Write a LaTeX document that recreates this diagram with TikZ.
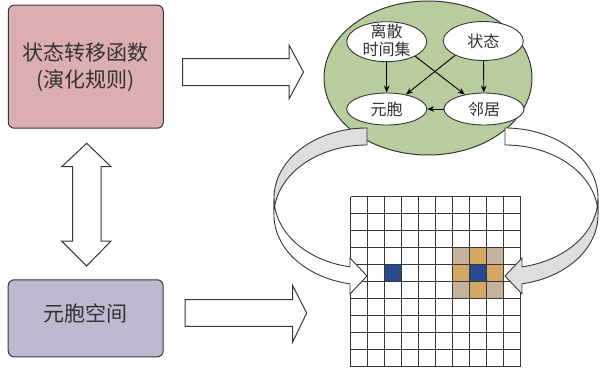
\documentclass[tikz,border=0pt]{standalone}
\usepackage{fontspec}
\setmainfont{Noto Sans CJK SC}
\usetikzlibrary{shapes.geometric,arrows.meta}
\definecolor{pinkc}{RGB}{221,174,176}
\definecolor{lilac}{RGB}{192,183,209}
\definecolor{greenc}{RGB}{185,204,158}
\definecolor{greyc}{RGB}{222,222,222}
\definecolor{bluec}{RGB}{40,74,140}
\definecolor{orangec}{RGB}{212,168,98}
\definecolor{tanc}{RGB}{197,178,156}
\definecolor{linec}{RGB}{55,55,55}
\definecolor{textc}{RGB}{50,50,50}
\begin{document}
\begin{tikzpicture}[x=1pt,y=-1pt,
  box/.style={draw=linec, line width=1pt, rounded corners=6pt, inner sep=0pt},
  boxtext/.style={text=textc, font=\fontsize{21}{27}\selectfont, align=center},
  inell/.style={ellipse, draw=linec, fill=white, line width=0.9pt, minimum width=80pt, inner sep=0pt},
  intext/.style={text=textc, font=\fontsize{16}{18}\selectfont, align=center},
  conn/.style={-{Stealth[length=7pt,width=5.5pt]}, line width=0.9pt, black},
  blockarrow/.style={draw=linec, fill=white, line width=1pt, line join=miter},
  band/.style={draw=linec, line width=0.9pt, line join=miter},
  gridline/.style={draw=linec, line width=1.2pt},
]
\useasboundingbox (0,0) rectangle (600,372);

% left boxes
\node[box, fill=pinkc, minimum width=155pt, minimum height=123pt, boxtext] (func) at (85.8,66.7) {状态转移函数\\(演化规则)};
\node[box, fill=lilac, minimum width=155pt, minimum height=77pt] (space) at (85.7,318.3) {};
\node[boxtext] (space-t) at (85.7,313) {元胞空间};

% block arrows
\filldraw[blockarrow] (182.7,58.5) -- (289,58.5) -- (289,45) -- (303.5,72) -- (289,99) -- (289,85.5) -- (182.7,85.5) -- cycle;
\filldraw[blockarrow] (185,299.7) -- (292.7,299.7) -- (292.7,285.7) -- (306.7,313) -- (292.7,342) -- (292.7,326.3) -- (185,326.3) -- cycle;
\filldraw[blockarrow] (86.7,143.3) -- (111,166.7) -- (101,166.7) -- (101,241) -- (111,241) -- (86.7,266) -- (61.7,241) -- (72.7,241) -- (72.7,166.7) -- (61.7,166.7) -- cycle;

% big ellipse
\node[ellipse, draw=linec, fill=greenc, line width=1pt, minimum width=208pt, minimum height=154pt, inner sep=0pt] (rule) at (428,78) {};

% grid
\foreach \c/\r/\col in {2/4/bluec, 6/3/tanc, 8/3/tanc, 6/5/tanc, 8/5/tanc, 7/3/orangec, 6/4/orangec, 8/4/orangec, 7/5/orangec, 7/4/bluec}
  \fill[\col] ({350.5+\c*17},{196.5+\r*17}) rectangle +(17,17);
\foreach \i in {0,...,10} {
  \draw[gridline] ({350.5+\i*17},196.5) -- ({350.5+\i*17},366.5);
  \draw[gridline] (350.5,{196.5+\i*17}) -- (520.5,{196.5+\i*17});
}
\node[minimum width=170pt, minimum height=170pt, inner sep=0pt] (grid) at (435.5,281.5) {};

% curved arrows (left)
\filldraw[band, fill=greyc] plot[domain=270:180, samples=50] ({367+93*cos(\x)},{198+70*sin(\x)}) -- plot[domain=180:270, samples=50] ({367+93*cos(\x)},{215+70*sin(\x)}) -- cycle;
\filldraw[band, fill=white] plot[domain=180:100.53, samples=50] ({367+93*cos(\x)},{198+70*sin(\x)}) -- (350,258) -- (367,276) -- (350,294) -- plot[domain=100.53:180, samples=50] ({367+93*cos(\x)},{215+70*sin(\x)}) -- cycle;
% curved arrows (right)
\filldraw[band, fill=white] plot[domain=270:180, samples=50] ({505-93*cos(\x)},{198+70*sin(\x)}) -- plot[domain=180:270, samples=50] ({505-93*cos(\x)},{215+70*sin(\x)}) -- cycle;
\filldraw[band, fill=greyc] plot[domain=180:100.53, samples=50] ({505-93*cos(\x)},{198+70*sin(\x)}) -- (522,258) -- (505,276) -- (522,294) -- plot[domain=100.53:180, samples=50] ({505-93*cos(\x)},{215+70*sin(\x)}) -- cycle;

% inner ellipses
\node[inell, minimum height=40pt] (lisan) at (386.7,41.7) {};
\node[intext] (lisan-t) at (386.7,40.5) {离散\\时间集};
\node[inell, minimum height=39pt] (zt) at (483.3,41) {};
\node[intext] (zt-t) at (483.3,41) {状态};
\node[inell, minimum height=32pt] (yb) at (386.7,109) {};
\node[intext] (yb-t) at (386.7,109.5) {元胞};
\node[inell, minimum height=32pt] (lj) at (484,109) {};
\node[intext] (lj-t) at (484,109.5) {邻居};

\draw[conn] (lisan) -- (yb);
\draw[conn] (zt) -- (lj);
\draw[conn] (lisan.-27) -- (lj.143);
\draw[conn] (zt.-153) -- (yb.37);
\draw[conn] (lj.west) -- (yb.east);
\end{tikzpicture}
\end{document}
